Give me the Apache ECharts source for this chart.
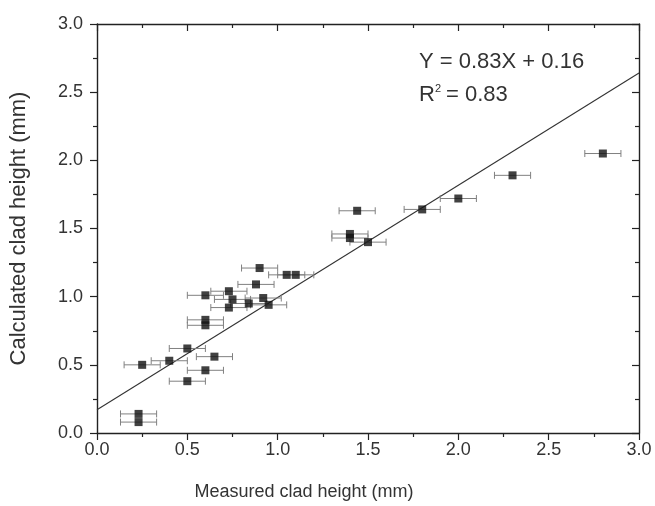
<!DOCTYPE html>
<html>
<head>
<meta charset="utf-8">
<script src="https://cdn.jsdelivr.net/npm/echarts@6/dist/echarts.min.js"></script>
<style>html,body{margin:0;padding:0;background:#fff}#c{width:655px;height:506px}</style>
</head>
<body>
<div id="c"></div>
<script>
var measured = [0.90,1.05,1.10,0.88,0.73,0.60,0.75,0.92,0.84,0.95,0.73,0.60,0.60,0.50,0.40,0.25,0.65,0.60,0.50,0.23,0.23,1.40,1.40,1.50,1.44,1.80,2.00,2.30,2.80];
var calculated = [1.21,1.16,1.16,1.09,1.04,1.01,0.98,0.99,0.95,0.94,0.92,0.83,0.79,0.62,0.53,0.50,0.56,0.46,0.38,0.14,0.08,1.46,1.43,1.40,1.63,1.64,1.72,1.89,2.05];
var xError = [0.10,0.10,0.10,0.10,0.10,0.10,0.10,0.10,0.10,0.10,0.10,0.10,0.10,0.10,0.10,0.10,0.10,0.10,0.10,0.10,0.10,0.10,0.10,0.10,0.10,0.10,0.10,0.10,0.10];
var fitX = [0, 3];
var fitY = [0.17, 2.64];
var xTicks = ['0.0','0.5','1.0','1.5','2.0','2.5','3.0'];
var yTicks = ['0.0','0.5','1.0','1.5','2.0','2.5','3.0'];

var pts = measured.map(function(x,i){return [x, calculated[i]];});
var errData = measured.map(function(x,i){return [x, calculated[i], xError[i]];});
var fitData = fitX.map(function(x,i){return [x, fitY[i]];});

var font = 'Liberation Sans, Arial, sans-serif';
var axisCol = '#222';
var txtCol = '#333';

var chart = echarts.init(document.getElementById('c'), null, {renderer:'canvas'});
function tickStyle(inside){
  return {show:true, inside:inside, length:7, lineStyle:{color:axisCol, width:1.2}};
}
function minorStyle(){
  return {show:true, splitNumber:2, length:4, lineStyle:{color:axisCol, width:1.2}};
}
chart.setOption({
  animation:false,
  backgroundColor:'#fff',
  grid:{left:97, right:16, top:24, bottom:70},
  xAxis:[{
    type:'value', min:0, max:3, interval:0.5, position:'bottom',
    name:'Measured clad height (mm)', nameLocation:'middle', nameGap:50,
    nameTextStyle:{fontFamily:font, fontSize:18, color:txtCol, padding:[0,128,0,0]},
    axisLine:{show:true, onZero:false, lineStyle:{color:axisCol, width:1.4}},
    axisTick:tickStyle(false),
    minorTick:minorStyle(),
    splitLine:{show:false},
    axisLabel:{fontFamily:font, fontSize:18, color:txtCol, margin:8, formatter:function(v){return xTicks[Math.round(v*2)];}}
  },{
    type:'value', min:0, max:3, interval:0.5, position:'top',
    axisLine:{show:true, onZero:false, lineStyle:{color:axisCol, width:1.4}},
    axisTick:tickStyle(true),
    minorTick:minorStyle(),
    splitLine:{show:false},
    axisLabel:{show:false}
  }],
  yAxis:[{
    type:'value', min:0, max:3, interval:0.5, position:'left',
    name:'Calculated clad height (mm)', nameLocation:'middle', nameGap:67,
    nameTextStyle:{fontFamily:font, fontSize:22, color:txtCol},
    axisLine:{show:true, onZero:false, lineStyle:{color:axisCol, width:1.4}},
    axisTick:tickStyle(false),
    minorTick:minorStyle(),
    splitLine:{show:false},
    axisLabel:{fontFamily:font, fontSize:18, color:txtCol, margin:14, formatter:function(v){return yTicks[Math.round(v*2)];}}
  },{
    type:'value', min:0, max:3, interval:0.5, position:'right',
    axisLine:{show:true, onZero:false, lineStyle:{color:axisCol, width:1.4}},
    axisTick:tickStyle(true),
    minorTick:minorStyle(),
    splitLine:{show:false},
    axisLabel:{show:false}
  }],
  graphic:[
    {type:'text', left:419, top:51, style:{text:'Y = 0.83X + 0.16', fontFamily:font, fontSize:22, fill:txtCol}},
    {type:'text', left:419, top:84, style:{text:'R', fontFamily:font, fontSize:22, fill:txtCol}},
    {type:'text', left:435, top:83, style:{text:'2', fontFamily:font, fontSize:11, fill:txtCol}},
    {type:'text', left:446, top:84, style:{text:'= 0.83', fontFamily:font, fontSize:22, fill:txtCol}}
  ],
  series:[
    {
      type:'line', data:fitData, showSymbol:false, symbol:'none',
      lineStyle:{color:'#333', width:1.1}, z:2
    },
    {
      type:'custom', data:errData, z:3,
      renderItem:function(params, api){
        var x = api.value(0), y = api.value(1), e = api.value(2);
        var p1 = api.coord([x-e, y]);
        var p2 = api.coord([x+e, y]);
        var cap = 3.5;
        var st = {stroke:'#808080', lineWidth:1};
        return {type:'group', children:[
          {type:'line', shape:{x1:p1[0], y1:p1[1], x2:p2[0], y2:p2[1]}, style:st},
          {type:'line', shape:{x1:p1[0], y1:p1[1]-cap, x2:p1[0], y2:p1[1]+cap}, style:st},
          {type:'line', shape:{x1:p2[0], y1:p2[1]-cap, x2:p2[0], y2:p2[1]+cap}, style:st}
        ]};
      }
    },
    {
      type:'scatter', data:pts, symbol:'rect', symbolSize:8,
      itemStyle:{color:'#111'}, z:4
    }
  ]
});
</script>
</body>
</html>
